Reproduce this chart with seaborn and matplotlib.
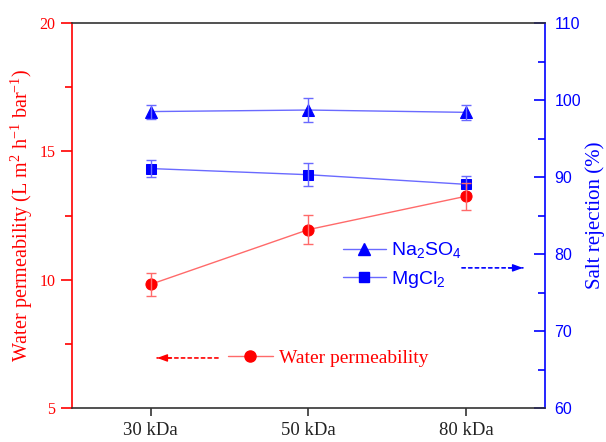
import matplotlib
matplotlib.use("Agg")
import matplotlib.pyplot as plt
from matplotlib.ticker import MultipleLocator
from matplotlib.lines import Line2D
import seaborn as sns
import pandas as pd

# Membrane molecular weight cut-off
categories = ["30 kDa", "50 kDa", "80 kDa"]

# Water permeability (L m^-2 h^-1 bar^-1) with standard deviations
permeability = [9.82, 11.95, 13.25]
permeability_err = [0.45, 0.56, 0.52]

# Salt rejection (%) with standard deviations
na2so4 = [98.5, 98.7, 98.4]
na2so4_err = [0.9, 1.6, 1.0]
mgcl2 = [91.1, 90.3, 89.05]
mgcl2_err = [1.1, 1.5, 1.1]

sns.set_style("ticks")
plt.rcParams["font.family"] = ["Liberation Serif", "DejaVu Serif"]
plt.rcParams["mathtext.fontset"] = "custom"
plt.rcParams["mathtext.rm"] = "Liberation Serif"
plt.rcParams["mathtext.it"] = "Liberation Serif:italic"

RED = "#ff0000"
BLUE = "#0000ff"
RED_LINE = "#ff6a6a"
BLUE_LINE = "#6a6aff"
DARK = "#333333"

df = pd.DataFrame({
    "membrane": categories,
    "permeability": permeability,
    "na2so4": na2so4,
    "mgcl2": mgcl2,
})

fig = plt.figure(figsize=(6.06, 4.42), dpi=100)
ax = fig.add_axes([0.1188, 0.0769, 0.78, 0.871])
ax2 = ax.twinx()

# Salt rejection on the right axis
sns.lineplot(data=df, x="membrane", y="na2so4", ax=ax2, color=BLUE_LINE,
             linewidth=1.0, marker="^", markersize=8, markerfacecolor=BLUE,
             markeredgecolor=BLUE, sort=False)
sns.lineplot(data=df, x="membrane", y="mgcl2", ax=ax2, color=BLUE_LINE,
             linewidth=1.0, marker="s", markersize=6.5, markerfacecolor=BLUE,
             markeredgecolor=BLUE, sort=False)
ax2.errorbar(categories, na2so4, yerr=na2so4_err, fmt="none",
             ecolor=BLUE_LINE, elinewidth=1.0, capsize=3.5, capthick=1.0)
ax2.errorbar(categories, mgcl2, yerr=mgcl2_err, fmt="none",
             ecolor=BLUE_LINE, elinewidth=1.0, capsize=3.5, capthick=1.0)

# Water permeability on the left axis
sns.lineplot(data=df, x="membrane", y="permeability", ax=ax, color=RED_LINE,
             linewidth=1.0, marker="o", markersize=8, markerfacecolor=RED,
             markeredgecolor=RED, sort=False)
ax.errorbar(categories, permeability, yerr=permeability_err, fmt="none",
            ecolor=RED_LINE, elinewidth=1.0, capsize=3.5, capthick=1.0)

ax.set_zorder(ax2.get_zorder() + 1)
ax.patch.set_visible(False)

ax.set_xlim(-0.5, 2.5)
ax.set_ylim(5, 20)
ax2.set_ylim(60, 110)

ax.yaxis.set_major_locator(MultipleLocator(5))
ax.yaxis.set_minor_locator(MultipleLocator(2.5))
ax2.yaxis.set_major_locator(MultipleLocator(10))
ax2.yaxis.set_minor_locator(MultipleLocator(5))

ax.set_xlabel("")
ax2.set_xlabel("")
ax.set_ylabel(r"Water permeability (L m$^{2}$ h$^{-1}$ bar$^{-1}$)",
              color=RED, fontsize=14.5, labelpad=3)
ax2.set_ylabel("Salt rejection (%)", color=BLUE, fontsize=15, labelpad=3)

# Spines
for name in ("top", "bottom"):
    ax.spines[name].set_color(DARK)
    ax.spines[name].set_linewidth(1.2)
    ax2.spines[name].set_visible(False)
ax.spines["left"].set_color(RED)
ax.spines["left"].set_linewidth(1.2)
ax.spines["right"].set_visible(False)
ax2.spines["left"].set_visible(False)
ax2.spines["right"].set_color(BLUE)
ax2.spines["right"].set_linewidth(1.2)

# Ticks
ax.tick_params(axis="x", direction="out", length=6, width=1.2, color=DARK,
               labelsize=13.5, pad=4, labelcolor="#222222")
ax.tick_params(axis="y", which="major", direction="out", length=8, width=1.2,
               color=RED, labelcolor=RED, labelsize=11.5, pad=4)
ax.tick_params(axis="y", which="minor", direction="out", length=5, width=1.2,
               color=RED)
ax2.tick_params(axis="y", which="major", direction="in", length=8, width=1.2,
                color=BLUE, labelcolor=BLUE, labelsize=11.5, pad=7)
ax2.tick_params(axis="y", which="minor", direction="in", length=5, width=1.2,
                color=BLUE)
for lab in ax2.get_yticklabels():
    lab.set_fontfamily("Liberation Sans")

# Legends
red_handle = Line2D([], [], color=RED_LINE, linewidth=1.0, marker="o",
                    markersize=8, markerfacecolor=RED, markeredgecolor=RED)
leg_red = ax.legend([red_handle], ["Water permeability"], loc="center left",
                    bbox_to_anchor=(0.330, 0.130), frameon=False, borderpad=0,
                    borderaxespad=0, handlelength=2.3, handletextpad=0.3,
                    prop={"family": "Liberation Serif", "size": 14})
for t in leg_red.get_texts():
    t.set_color(RED)
ax.add_artist(leg_red)

tri_handle = Line2D([], [], color=BLUE_LINE, linewidth=1.0, marker="^",
                    markersize=8, markerfacecolor=BLUE, markeredgecolor=BLUE)
sq_handle = Line2D([], [], color=BLUE_LINE, linewidth=1.0, marker="s",
                   markersize=6.5, markerfacecolor=BLUE, markeredgecolor=BLUE)
leg_blue = ax.legend([tri_handle, sq_handle],
                     [r"Na$\mathregular{_2}$SO$\mathregular{_4}$",
                      r"MgCl$\mathregular{_2}$"],
                     loc="center left", bbox_to_anchor=(0.573, 0.371),
                     frameon=False, borderpad=0, borderaxespad=0,
                     handlelength=2.2, handletextpad=0.3, labelspacing=0.45,
                     prop={"family": "Liberation Sans", "size": 14})
for t in leg_blue.get_texts():
    t.set_color(BLUE)
    t.set_fontfamily("Liberation Sans")

# Dashed arrows pointing to the corresponding axis
def dashed_arrow(x0, x1, y, color):
    ax.annotate("", xy=(x1, y), xytext=(x0, y), xycoords="axes fraction",
                textcoords="axes fraction",
                arrowprops=dict(arrowstyle="-", color=color, linewidth=1.2,
                                linestyle=(0, (2.0, 2.0)), shrinkA=0, shrinkB=0))
    step = 0.03 if x1 > x0 else -0.03
    ax.annotate("", xy=(x1, y), xytext=(x1 - step, y), xycoords="axes fraction",
                textcoords="axes fraction",
                arrowprops=dict(arrowstyle="-|>,head_length=0.6,head_width=0.22",
                                color=color, linewidth=1.0, shrinkA=0, shrinkB=0))

dashed_arrow(0.309, 0.180, 0.130, RED)
dashed_arrow(0.825, 0.954, 0.364, BLUE)

fig.savefig("out.png", dpi=100)
